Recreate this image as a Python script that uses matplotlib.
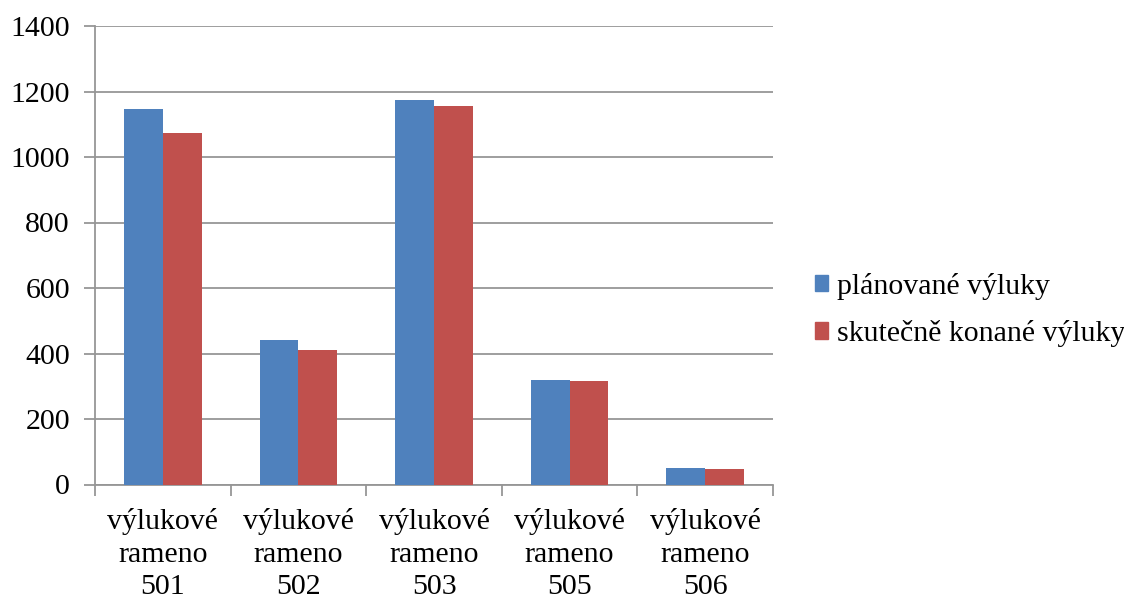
import matplotlib
matplotlib.use("Agg")
import matplotlib.pyplot as plt
import numpy as np
from matplotlib.patches import Patch

categories = ["výlukové\nrameno\n501", "výlukové\nrameno\n502", "výlukové\nrameno\n503",
              "výlukové\nrameno\n505", "výlukové\nrameno\n506"]
planned = [1147, 441, 1175, 319, 50]
actual = [1073, 411, 1157, 317, 48]
series_names = ["plánované výluky", "skutečně konané výluky"]
y_ticks = [0, 200, 400, 600, 800, 1000, 1200, 1400]

plt.rcParams["font.family"] = ["Liberation Serif", "DejaVu Serif"]
FS = 21.5
GRID = "#969696"
BLUE = "#4F81BD"
RED = "#C0504D"

fig = plt.figure(figsize=(11.24, 6.03), dpi=100)
W, H = 1124, 603
ax = fig.add_axes([95 / W, 1 - 484.5 / H, (773 - 95) / W, (484.5 - 26) / H])

x = np.arange(len(categories))
w = 1 / 3.5
ax.bar(x - w / 2, planned, width=w, color=BLUE, zorder=3)
ax.bar(x + w / 2, actual, width=w, color=RED, zorder=3)

ax.set_xlim(-0.5, len(categories) - 0.5)
ax.set_ylim(0, 1400)
ax.set_yticks(y_ticks)
ax.set_yticklabels([str(v) for v in y_ticks], fontsize=FS)
ax.yaxis.grid(True, color=GRID, linewidth=1.3, zorder=0)
ax.tick_params(axis="y", length=8, width=1.3, color=GRID, pad=10)

# category boundaries as tick marks, labels at centres
ax.set_xticks(np.arange(len(categories) + 1) - 0.5)
ax.set_xticklabels([])
ax.set_xticks(x, minor=True)
ax.set_xticklabels(categories, minor=True, fontsize=FS, linespacing=1.32)
ax.tick_params(axis="x", which="major", length=8, width=1.3, color=GRID)
ax.tick_params(axis="x", which="minor", length=0, pad=17)

for s in ["top", "right"]:
    ax.spines[s].set_visible(False)
for s in ["left", "bottom"]:
    ax.spines[s].set_color(GRID)
    ax.spines[s].set_linewidth(1.3)

handles = [Patch(color=BLUE), Patch(color=RED)]
fig.legend(handles, series_names, loc="center left", bbox_to_anchor=(815 / W, 1 - 310 / H),
           frameon=False, fontsize=FS, handlelength=0.45, handleheight=0.45,
           handletextpad=0.3, labelspacing=0.68, borderaxespad=0, borderpad=0)

fig.savefig("out.png", dpi=100)
